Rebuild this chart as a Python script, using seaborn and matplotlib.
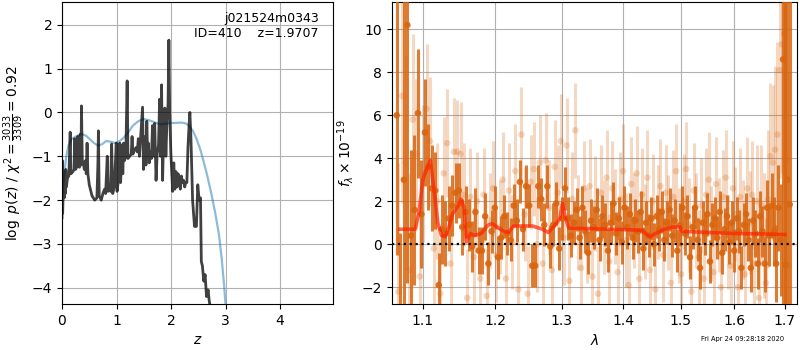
import numpy as np
import pandas as pd
import matplotlib
matplotlib.use("Agg")
import matplotlib.pyplot as plt
import seaborn as sns

# p(z) 곡선 (왼쪽 패널)
pz_z = [0.000, 0.006, 0.012, 0.020, 0.030, 0.040, 0.050, 0.060, 0.070, 0.080,
        0.100, 0.125, 0.140, 0.150, 0.162, 0.200, 0.220, 0.232, 0.248, 0.270,
        0.290, 0.305, 0.320, 0.335, 0.348, 0.357, 0.372, 0.390, 0.410, 0.430,
        0.445, 0.460, 0.475, 0.500, 0.550, 0.600, 0.640, 0.658, 0.668, 0.682,
        0.720, 0.750, 0.780, 0.800, 0.830, 0.845, 0.870, 0.890, 0.910, 0.930,
        0.960, 0.980, 0.995, 1.010, 1.030, 1.060, 1.075, 1.100, 1.115, 1.130,
        1.145, 1.170, 1.195, 1.210, 1.240, 1.270, 1.285, 1.300, 1.330, 1.360,
        1.380, 1.400, 1.420, 1.450, 1.477, 1.495, 1.510, 1.525, 1.540, 1.555,
        1.570, 1.585, 1.600, 1.620, 1.640, 1.660, 1.680, 1.700, 1.725, 1.745,
        1.770, 1.790, 1.805, 1.826, 1.845, 1.865, 1.885, 1.905, 1.925, 1.945,
        1.960, 1.975, 1.995, 2.030, 2.050, 2.070, 2.090, 2.110, 2.130, 2.150,
        2.170, 2.190, 2.210, 2.230, 2.250, 2.270, 2.290, 2.310, 2.330, 2.345,
        2.365, 2.395, 2.430, 2.465, 2.490, 2.515, 2.540, 2.555, 2.575, 2.600,
        2.625, 2.650, 2.680, 2.700, 2.740]
pz_logp = [-2.40, -1.10, -2.30, -1.90, -1.75, -1.95, -1.60, -1.85, -1.30, -1.70,
           -1.50, -1.45, -0.90, -0.45, -1.40, -1.35, -1.30, -0.60, -1.30, -1.25,
           -0.55, -1.20, -1.25, -0.50, -1.20, 0.15, -1.10, -1.15, -1.30, -1.10,
           -1.40, -0.70, -1.40, -1.65, -1.90, -2.00, -1.95, -1.20, -0.42, -1.90,
           -2.00, -1.85, -1.75, -1.85, -1.00, -1.80, -1.70, -1.80, -0.72, -1.85,
           -1.70, -1.10, -0.70, -1.80, -1.60, -0.70, -1.60, -0.75, -1.40, -0.70,
           -1.10, -1.00, 0.72, -1.05, -1.00, -0.95, -0.55, -0.95, -0.85, -0.80,
           -0.90, -0.60, -1.00, -0.40, 0.12, -1.30, -0.80, -0.55, -1.20, -0.20,
           -1.00, -0.70, -1.15, -0.90, -1.05, -0.30, -1.00, -0.25, -1.55, -0.95,
           -0.75, 0.30, -1.00, 0.63, -1.55, -0.40, 0.10, -1.00, -0.20, 0.20,
           1.65, 0.00, -0.90, -1.80, -1.15, -1.75, -1.35, -1.70, -1.40, -1.50,
           -1.75, -1.45, -1.60, -1.55, -1.70, -1.60, -1.60, -0.80, -0.30, 0.00,
           -0.60, -2.00, -2.60, -2.60, -1.65, -2.00, -1.95, -3.40, -3.50, -3.85,
           -3.70, -4.20, -4.05, -4.30, -4.60]

# chi2 기반 곡선 (파란색)
chi_z = [0.00, 0.02, 0.05, 0.08, 0.12, 0.17, 0.25, 0.36, 0.44, 0.51,
         0.58, 0.66, 0.74, 0.81, 0.90, 0.97, 1.05, 1.12, 1.20, 1.30,
         1.40, 1.49, 1.58, 1.67, 1.75, 1.80, 1.90, 1.98, 2.08, 2.19,
         2.27, 2.32, 2.40, 2.47, 2.55, 2.65, 2.73, 2.81, 2.88, 2.93,
         2.97, 3.00]
chi_logp = [-1.95, -1.68, -1.30, -0.99, -0.75, -0.61, -0.55, -0.49, -0.53, -0.61,
            -0.69, -0.76, -0.72, -0.65, -0.67, -0.70, -0.66, -0.59, -0.48, -0.30,
            -0.20, -0.15, -0.17, -0.21, -0.25, -0.27, -0.26, -0.24, -0.24, -0.23,
            -0.25, -0.29, -0.42, -0.61, -0.90, -1.37, -1.80, -2.29, -2.80, -3.35,
            -3.90, -4.40]

# 스펙트럼 (오른쪽 패널) - 진한 점
wave1 = [1.0660, 1.0706, 1.0752, 1.0798, 1.0844, 1.0890, 1.0936, 1.0982, 1.1028, 1.1074,
         1.1120, 1.1166, 1.1212, 1.1258, 1.1304, 1.1350, 1.1396, 1.1442, 1.1488, 1.1534,
         1.1580, 1.1626, 1.1672, 1.1718, 1.1764, 1.1810, 1.1856, 1.1902, 1.1948, 1.1994,
         1.2040, 1.2086, 1.2132, 1.2178, 1.2224, 1.2270, 1.2316, 1.2362, 1.2408, 1.2454,
         1.2500, 1.2546, 1.2592, 1.2638, 1.2684, 1.2730, 1.2776, 1.2822, 1.2868, 1.2914,
         1.2960, 1.3006, 1.3052, 1.3098, 1.3144, 1.3190, 1.3236, 1.3282, 1.3328, 1.3374,
         1.3420, 1.3466, 1.3512, 1.3558, 1.3604, 1.3650, 1.3696, 1.3742, 1.3788, 1.3834,
         1.3880, 1.3926, 1.3972, 1.4018, 1.4064, 1.4110, 1.4156, 1.4202, 1.4248, 1.4294,
         1.4340, 1.4386, 1.4432, 1.4478, 1.4524, 1.4570, 1.4616, 1.4662, 1.4708, 1.4754,
         1.4800, 1.4846, 1.4892, 1.4938, 1.4984, 1.5030, 1.5076, 1.5122, 1.5168, 1.5214,
         1.5260, 1.5306, 1.5352, 1.5398, 1.5444, 1.5490, 1.5536, 1.5582, 1.5628, 1.5674,
         1.5720, 1.5766, 1.5812, 1.5858, 1.5904, 1.5950, 1.5996, 1.6042, 1.6088, 1.6134,
         1.6180, 1.6226, 1.6272, 1.6318, 1.6364, 1.6410, 1.6456, 1.6502, 1.6548, 1.6594,
         1.6640, 1.6686, 1.6732, 1.6778, 1.6824, 1.6870, 1.6916, 1.6962, 1.7008, 1.7054,
         1.7100]
flux1 = [6.0, -4.0, 3.0, 10.2, 0.4, 1.6, 6.1, 1.4, 5.2, 3.6,
         2.6, 2.5, -1.9, 0.7, 0.5, 1.2, 1.8, 2.4, 2.5, 0.8,
         1.5, 0.9, -0.1, 1.5, -0.3, -0.3, 1.3, -0.9, 0.6, 1.7,
         -0.6, 0.3, 1.3, 0.5, 0.2, 1.8, 1.1, 2.9, 0.7, 2.7,
         1.8, -1.0, -1.0, 2.7, 2.1, 0.9, 2.7, -0.1, 0.9, 1.9,
         -0.2, 1.2, 2.6, 1.2, 0.4, 1.0, 1.6, 0.3, 1.7, 0.6,
         -0.4, 1.1, 0.8, 1.6, 0.2, 1.3, 0.9, -0.3, 1.0, 1.9,
         0.5, 1.2, 0.1, 1.7, 0.8, 1.4, 0.3, 1.1, 0.6, 1.5,
         -0.2, 1.0, 0.4, 1.2, 0.0, 1.3, 0.7, 1.5, 0.2, 1.0,
         1.6, 0.4, 1.1, -0.3, 0.9, 1.7, 0.5, 1.3, -0.6, 0.8,
         1.7, 0.2, -1.1, 1.0, 0.5, 1.4, -0.8, 0.9, 1.2, 0.3,
         1.5, -0.4, 0.7, 1.3, 0.1, 1.0, -0.3, 1.2, 0.6, -1.1,
         0.9, 1.4, 0.2, -1.1, 1.1, 0.5, -0.9, 1.3, 0.6, -0.9,
         1.7, 0.4, 1.8, 0.6, -0.9, 1.7, 0.2, 8.6, -0.95, 3.0,
         1.85]
err1 = [6.5, 4.5, 9.0, 12.0, 4.0, 3.5, 3.0, 2.5, 2.5, 2.0,
        2.0, 1.8, 1.5, 1.6, 1.5, 1.5, 1.4, 1.4, 1.3, 1.3,
        1.2, 1.2, 1.2, 1.1, 1.1, 1.1, 1.1, 1.0, 1.0, 1.0,
        1.0, 1.0, 1.0, 1.0, 1.0, 1.0, 1.0, 1.0, 1.0, 1.0,
        1.0, 1.0, 1.0, 1.0, 1.0, 1.0, 1.0, 1.0, 1.0, 1.0,
        1.0, 1.0, 1.0, 1.0, 1.0, 1.0, 1.0, 1.0, 1.0, 1.0,
        1.0, 1.0, 1.0, 1.0, 1.0, 1.0, 1.0, 1.0, 1.0, 1.0,
        1.0, 1.0, 1.0, 1.0, 1.0, 1.0, 1.0, 1.0, 1.0, 1.0,
        1.0, 1.0, 1.0, 1.0, 1.0, 1.0, 1.0, 1.0, 1.0, 1.0,
        1.0, 1.0, 1.0, 1.0, 1.0, 1.0, 1.0, 1.0, 1.0, 1.0,
        1.0, 1.0, 1.0, 1.0, 1.0, 1.0, 1.0, 1.0, 1.0, 1.0,
        1.0, 1.0, 1.0, 1.0, 1.0, 1.0, 1.0, 1.0, 1.0, 1.0,
        1.0, 1.0, 1.0, 1.1, 1.1, 1.1, 1.2, 1.2, 1.2, 1.3,
        1.3, 1.4, 1.5, 1.6, 1.8, 2.0, 2.6, 12.0, 14.0, 14.0,
        15.0]

# 스펙트럼 - 연한 점
wave2 = [1.0683, 1.0729, 1.0775, 1.0821, 1.0867, 1.0913, 1.0959, 1.1005, 1.1051, 1.1097,
         1.1143, 1.1189, 1.1235, 1.1281, 1.1327, 1.1373, 1.1419, 1.1465, 1.1511, 1.1557,
         1.1603, 1.1649, 1.1695, 1.1741, 1.1787, 1.1833, 1.1879, 1.1925, 1.1971, 1.2017,
         1.2063, 1.2109, 1.2155, 1.2201, 1.2247, 1.2293, 1.2339, 1.2385, 1.2431, 1.2477,
         1.2523, 1.2569, 1.2615, 1.2661, 1.2707, 1.2753, 1.2799, 1.2845, 1.2891, 1.2937,
         1.2983, 1.3029, 1.3075, 1.3121, 1.3167, 1.3213, 1.3259, 1.3305, 1.3351, 1.3397,
         1.3443, 1.3489, 1.3535, 1.3581, 1.3627, 1.3673, 1.3719, 1.3765, 1.3811, 1.3857,
         1.3903, 1.3949, 1.3995, 1.4041, 1.4087, 1.4133, 1.4179, 1.4225, 1.4271, 1.4317,
         1.4363, 1.4409, 1.4455, 1.4501, 1.4547, 1.4593, 1.4639, 1.4685, 1.4731, 1.4777,
         1.4823, 1.4869, 1.4915, 1.4961, 1.5007, 1.5053, 1.5099, 1.5145, 1.5191, 1.5237,
         1.5283, 1.5329, 1.5375, 1.5421, 1.5467, 1.5513, 1.5559, 1.5605, 1.5651, 1.5697,
         1.5743, 1.5789, 1.5835, 1.5881, 1.5927, 1.5973, 1.6019, 1.6065, 1.6111, 1.6157,
         1.6203, 1.6249, 1.6295, 1.6341, 1.6387, 1.6433, 1.6479, 1.6525, 1.6571, 1.6617,
         1.6663, 1.6709, 1.6755, 1.6801, 1.6847, 1.6893, 1.6939, 1.6985, 1.7031, 1.7077]
flux2 = [-2.2, 6.9, 3.8, -1.2, 5.8, 4.2, -1.5, 3.3, 6.3, 4.8,
         -0.2, 2.0, -2.3, 3.3, 4.7, -0.9, 4.3, 4.3, 4.2, 2.3,
         -2.5, 2.2, -0.6, 2.0, -1.6, 2.3, -2.4, 1.1, 2.6, -0.5,
         0.8, 3.0, -1.6, 2.5, 0.1, 3.4, -2.1, 5.1, 1.4, -2.3,
         2.9, 3.5, 0.0, 3.8, -0.9, 3.9, 1.7, -1.2, 3.6, 2.4,
         4.8, 0.3, 4.6, -1.7, 2.1, 5.3, 1.0, -1.1, 2.6, 0.4,
         2.7, -1.5, 1.9, -2.3, 2.4, 0.8, 3.1, -0.8, 2.6, 1.3,
         -1.3, 2.1, 3.4, 0.2, -1.9, 2.8, 1.1, 3.3, -1.6, 2.3,
         0.6, 3.1, -1.2, 2.0, -2.1, 1.5, 2.7, -0.5, 2.4, 1.0,
         -1.8, 2.2, 3.4, 0.4, -1.4, 2.0, 3.5, 0.9, -2.2, 2.5,
         1.1, -0.6, 1.8, -1.6, 2.3, 3.0, 0.5, -1.3, 2.8, 0.9,
         -2.0, 2.2, 3.1, 0.1, -1.0, 2.6, 1.4, -2.0, 2.2, 0.7,
         -1.4, 2.6, 1.0, 2.3, -0.9, 2.0, -2.5, 1.8, 0.4, -1.8,
         2.1, 4.1, 3.8, 4.4, 5.1, 8.1, 9.3, 9.8, 3.9, -1.0]
err2 = [6.0, 5.0, 5.0, 4.5, 4.0, 3.5, 3.5, 3.2, 3.0, 3.0,
        2.8, 2.7, 2.6, 2.6, 2.5, 2.5, 2.5, 2.4, 2.4, 2.4,
        2.3, 2.3, 2.3, 2.3, 2.3, 2.2, 2.2, 2.2, 2.2, 2.2,
        2.2, 2.2, 2.2, 2.2, 2.2, 2.2, 2.2, 2.2, 2.2, 2.2,
        2.2, 2.2, 2.2, 2.2, 2.2, 2.2, 2.2, 2.2, 2.2, 2.2,
        2.2, 2.2, 2.2, 2.2, 2.2, 2.2, 2.2, 2.2, 2.2, 2.2,
        2.2, 2.2, 2.2, 2.2, 2.2, 2.2, 2.2, 2.2, 2.2, 2.2,
        2.2, 2.2, 2.2, 2.2, 2.2, 2.2, 2.2, 2.2, 2.2, 2.2,
        2.2, 2.2, 2.2, 2.2, 2.2, 2.2, 2.2, 2.2, 2.2, 2.2,
        2.2, 2.2, 2.2, 2.2, 2.2, 2.2, 2.2, 2.2, 2.2, 2.2,
        2.2, 2.2, 2.2, 2.2, 2.2, 2.2, 2.2, 2.2, 2.2, 2.2,
        2.2, 2.2, 2.2, 2.2, 2.2, 2.2, 2.2, 2.3, 2.3, 2.3,
        2.3, 2.4, 2.4, 2.5, 2.5, 2.6, 2.7, 2.8, 2.9, 3.0,
        3.2, 3.4, 3.6, 3.9, 4.3, 5.0, 6.0, 7.0, 8.0, 9.0]

# 모델 (빨간 선)
model_wave = [1.070, 1.090, 1.095, 1.100, 1.105, 1.110, 1.115, 1.120, 1.125, 1.130,
              1.135, 1.140, 1.148, 1.152, 1.156, 1.159, 1.165, 1.170, 1.180, 1.190,
              1.196, 1.205, 1.213, 1.219, 1.227, 1.240, 1.255, 1.270, 1.279, 1.290,
              1.297, 1.301, 1.306, 1.311, 1.350, 1.400, 1.432, 1.440, 1.446, 1.455,
              1.471, 1.485, 1.499, 1.502, 1.550, 1.600, 1.650, 1.700]
model_flux = [0.70, 0.70, 1.50, 3.00, 3.50, 3.90, 2.50, 1.00, 0.40, 0.35,
              0.80, 1.40, 1.80, 2.10, 1.70, 0.10, 0.50, 0.40, 0.50, 0.90,
              0.95, 0.75, 0.60, 0.55, 0.85, 0.85, 0.85, 0.70, 0.55, 0.90,
              1.20, 1.90, 1.20, 0.75, 0.72, 0.68, 0.65, 0.45, 0.35, 0.50,
              0.70, 0.80, 0.80, 0.60, 0.55, 0.50, 0.48, 0.45]

date_text = "Fri Apr 24 09:28:18 2020"

orange = "#d9650f"

fig = plt.figure(figsize=(8, 3.5), dpi=100)
ax1 = fig.add_axes([62 / 800, 46 / 350, 271 / 800, 302 / 350])
ax2 = fig.add_axes([392 / 800, 46 / 350, 405 / 800, 302 / 350])

# 왼쪽 패널
pz_df = pd.DataFrame({"z": pz_z, "logp": pz_logp})
chi_df = pd.DataFrame({"z": chi_z, "logp": chi_logp})
sns.lineplot(data=chi_df, x="z", y="logp", ax=ax1, color="#1f77b4", alpha=0.5,
             lw=1.6, sort=False, estimator=None)
sns.lineplot(data=pz_df, x="z", y="logp", ax=ax1, color="k", alpha=0.75,
             lw=2, sort=False, estimator=None)
ax1.set_xlim(0, 4.97)
ax1.set_ylim(-4.37, 2.52)
ax1.set_xticks([0, 1, 2, 3, 4])
ax1.set_yticks([-4, -3, -2, -1, 0, 1, 2])
ax1.grid(True)
ax1.set_xlabel("$z$")
ax1.set_ylabel(r"$\log\ p(z)$ / $\chi^2=\frac{3033}{3309}=0.92$")
ax1.text(0.948, 0.968, "j021524m0343\nID=410    z=1.9707", transform=ax1.transAxes,
         ha="right", va="top", fontsize=9)

# 오른쪽 패널
ax2.errorbar(wave2, flux2, yerr=err2, fmt="none", ecolor=orange, alpha=0.25,
             elinewidth=2.2, zorder=2)
sns.scatterplot(x=wave2, y=flux2, ax=ax2, color=orange, alpha=0.25, s=22,
                edgecolor="none", zorder=2)
ax2.errorbar(wave1, flux1, yerr=err1, fmt="none", ecolor=orange, alpha=0.85,
             elinewidth=2.2, zorder=3)
sns.scatterplot(x=wave1, y=flux1, ax=ax2, color=orange, alpha=0.9, s=22,
                edgecolor="none", zorder=3)
sns.lineplot(x=model_wave, y=model_flux, ax=ax2, color="#ff2200", alpha=0.7,
             lw=2.6, sort=False, estimator=None, zorder=5)
ax2.axhline(0, color="k", ls=":", lw=1.6, zorder=6)
ax2.set_xscale("log")
ax2.set_xlim(1.06, 1.725)
ax2.set_ylim(-2.78, 11.27)
xt = [1.1, 1.2, 1.3, 1.4, 1.5, 1.6, 1.7]
ax2.set_xticks(xt)
ax2.set_xticklabels([f"{v:.1f}" for v in xt])
ax2.xaxis.set_minor_locator(matplotlib.ticker.NullLocator())
ax2.set_yticks([-2, 0, 2, 4, 6, 8, 10])
ax2.grid(True)
ax2.set_xlabel(r"$\lambda$")
ax2.set_ylabel(r"$f_\lambda\times10^{-19}$")

fig.text(743 / 800, 11 / 350, date_text, ha="center", va="center", fontsize=4.8)

fig.savefig("out.png", dpi=100)
